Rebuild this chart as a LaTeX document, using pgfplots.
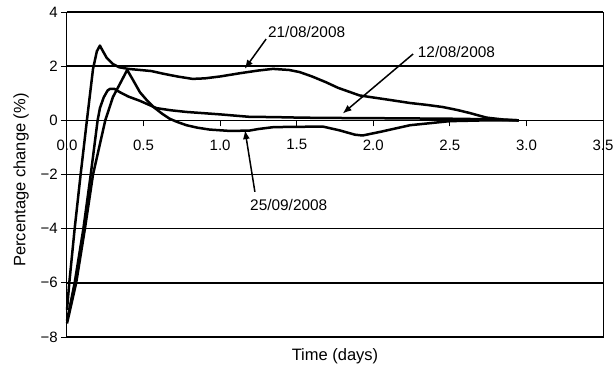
\documentclass[border=0pt]{standalone}
\usepackage{pgfplots}
\pgfplotsset{compat=1.18}
\usepackage{fontspec}
\setmainfont{Liberation Sans}
\usetikzlibrary{arrows.meta}

\pgfplotstableread{
x y
0 -7.0
0.015 -6
0.05 -4
0.089 -2
0.13 0
0.17 1.9
0.195 2.55
0.215 2.76
0.23 2.6
0.26 2.3
0.30 2.08
0.34 1.96
0.40 1.9
0.476 1.86
0.55 1.82
0.63 1.72
0.72 1.62
0.82 1.53
0.90 1.55
1.0 1.62
1.13 1.74
1.25 1.84
1.345 1.9
1.45 1.86
1.52 1.78
1.6 1.62
1.69 1.41
1.77 1.2
1.85 1.04
1.91 0.92
1.98 0.86
2.1 0.76
2.24 0.64
2.35 0.57
2.455 0.49
2.55 0.38
2.63 0.27
2.74 0.1
2.85 0.03
2.95 0
}\seriesA

\pgfplotstableread{
x y
0 -7.5
0.06 -6
0.117 -4
0.17 -2
0.25 0
0.30 0.86
0.357 1.47
0.393 1.86
0.43 1.5
0.476 1.04
0.52 0.75
0.565 0.49
0.62 0.25
0.67 0.06
0.72 -0.06
0.78 -0.18
0.85 -0.27
0.93 -0.34
1.06 -0.39
1.19 -0.38
1.25 -0.32
1.35 -0.25
1.5 -0.24
1.67 -0.23
1.78 -0.37
1.88 -0.53
1.93 -0.56
2.05 -0.42
2.24 -0.18
2.5 -0.03
2.74 0.0
2.95 0
}\seriesB

\pgfplotstableread{
x y
0 -7.4
0.05 -6
0.107 -4
0.155 -2
0.20 0
0.215 0.45
0.24 0.85
0.265 1.1
0.28 1.16
0.31 1.16
0.345 1.04
0.40 0.88
0.476 0.72
0.585 0.45
0.68 0.37
0.78 0.31
1.0 0.22
1.19 0.13
1.35 0.12
1.52 0.1
1.67 0.09
2.0 0.08
2.5 0.06
2.75 0.04
2.95 0
}\seriesC

\begin{document}
\begin{tikzpicture}
\begin{axis}[
  at={(0pt,0pt)}, anchor=south west,
  scale only axis, width=536pt, height=325pt,
  xmin=0, xmax=3.5, ymin=-8, ymax=4,
  axis x line=middle, axis y line=left,
  axis line style={-, line width=1pt, black},
  hide obscured x ticks=false,
  hide obscured y ticks=false,
  xtick={0,0.5,1,1.5,2,2.5,3,3.5},
  xticklabels={0.0,0.5,1.0,1.5,2.0,2.5,3.0,3.5},
  ytick={-8,-6,-4,-2,0,2,4},
  yticklabels={−8,−6,−4,−2,0,2,4},
  ymajorgrids,
  grid style={black, line width=1.5pt},
  major tick length=6pt,
  ytick align=outside,
  xtick align=center,
  ytick style={black, line width=1pt},
  xtick style={black, line width=1pt, yshift=-3pt},
  ticklabel style={font=\fontsize{15}{17}\selectfont},
  yticklabel style={anchor=east, inner sep=0pt, xshift=-3pt},
  xticklabel style={anchor=north, inner sep=0pt, yshift=-16pt},
  clip=false,
]
\draw[line width=1pt] (rel axis cs:0,0) rectangle (rel axis cs:1,1);
\addplot[black, line width=2.5pt, line join=round] table {\seriesA};
\addplot[black, line width=2.5pt, line join=round] table {\seriesB};
\addplot[black, line width=2.5pt, line join=round] table {\seriesC};
\node[anchor=west, inner sep=0pt, font=\fontsize{15.4}{17}\selectfont] at (axis cs:1.312,3.25) {21/08/2008};
\node[anchor=west, inner sep=0pt, font=\fontsize{15.4}{17}\selectfont] at (axis cs:2.29,2.52) {12/08/2008};
\node[anchor=west, inner sep=0pt, font=\fontsize{15.4}{17}\selectfont] at (axis cs:1.195,-3.13) {25/09/2008};
\draw[line width=1.5pt, -{Latex[length=9pt,width=7pt]}] (axis cs:1.30,3.0) -- (axis cs:1.16,1.90);
\draw[line width=1.5pt, -{Latex[length=9pt,width=7pt]}] (axis cs:2.26,2.45) -- (axis cs:1.80,0.25);
\draw[line width=1.5pt, -{Latex[length=9pt,width=7pt]}] (axis cs:1.227,-2.64) -- (axis cs:1.162,-0.36);
\end{axis}
\node[anchor=base, inner sep=0pt, font=\fontsize{16.5}{18}\selectfont] at (268pt,-23pt) {Time (days)};
\node[anchor=base, rotate=90, inner sep=0pt, font=\fontsize{16.5}{18}\selectfont] at (-41.5pt,157pt) {Percentage change (\%)};
\pgfresetboundingbox
\useasboundingbox (-67pt,-33pt) rectangle (546pt,337pt);
\end{tikzpicture}
\end{document}
